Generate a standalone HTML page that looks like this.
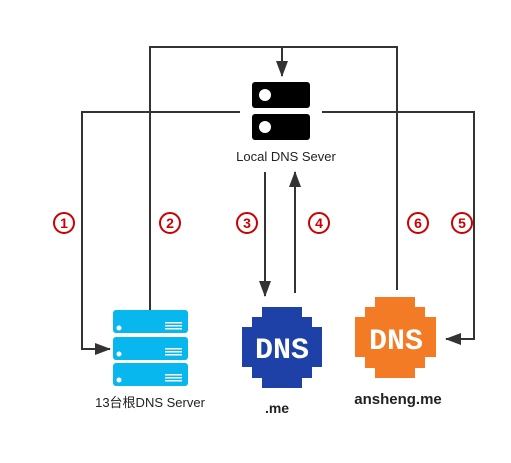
<!DOCTYPE html>
<html><head><style>
body{margin:0;background:#fff;width:511px;height:458px;overflow:hidden}
</style></head><body>
<svg width="511" height="458" xmlns="http://www.w3.org/2000/svg" font-family="Liberation Sans, Noto Sans CJK SC, sans-serif">
<defs><marker id="a" markerWidth="10" markerHeight="10" refX="9" refY="5" orient="auto" markerUnits="userSpaceOnUse"><path d="M0,0 L10,5 L0,10 z" fill="#333"/></marker>
<marker id="b" markerWidth="16" markerHeight="12" refX="15" refY="6" orient="auto" markerUnits="userSpaceOnUse"><path d="M0,0 L16,6 L0,12 z" fill="#333"/></marker></defs>
<g stroke="#333" stroke-width="2" fill="none">
<polyline points="150,310 150,47 397,47 397,290"/>
<line x1="282" y1="47" x2="282" y2="76" marker-end="url(#b)"/>
<polyline points="240,112 82,112 82,349 110,349" marker-end="url(#b)"/>
<polyline points="322,112 474,112 474,339 446,339" marker-end="url(#b)"/>
<line x1="265" y1="172" x2="265" y2="296" marker-end="url(#b)"/>
<line x1="295" y1="293" x2="295" y2="172" marker-end="url(#b)"/>
</g>
<rect x="252" y="82" width="58" height="26" rx="3" fill="#000"/>
<rect x="252" y="114" width="58" height="26" rx="3" fill="#000"/>
<circle cx="265" cy="95" r="6" fill="#fff"/><circle cx="265" cy="127" r="6" fill="#fff"/>
<text x="286" y="161" font-size="13" text-anchor="middle" fill="#222">Local DNS Sever</text>
<g fill="#fff" stroke="#c00" stroke-width="2" font-size="14" font-weight="bold" text-anchor="middle">
<circle cx="64" cy="223" r="10"/><circle cx="170" cy="223" r="10"/><circle cx="247" cy="223" r="10"/><circle cx="319" cy="223" r="10"/><circle cx="418" cy="223" r="10"/><circle cx="462" cy="223" r="10"/></g>
<g fill="#c00" font-size="14" font-weight="bold" text-anchor="middle">
<text x="64" y="228">1</text><text x="170" y="228">2</text><text x="247" y="228">3</text><text x="319" y="228">4</text><text x="418" y="228">6</text><text x="462" y="228">5</text></g>
<g fill="#08b7ee">
<rect x="113" y="310" width="75" height="23" rx="3"/><rect x="113" y="337" width="75" height="23" rx="3"/><rect x="113" y="363" width="75" height="23" rx="3"/></g>
<g fill="#fff"><circle cx="119" cy="328" r="2.5"/><circle cx="119" cy="354" r="2.5"/><circle cx="119" cy="380" r="2.5"/>
<rect x="165" y="322" width="17" height="1.5"/><rect x="165" y="325" width="17" height="1.5"/><rect x="165" y="328" width="17" height="1.5"/>
<rect x="165" y="348" width="17" height="1.5"/><rect x="165" y="351" width="17" height="1.5"/><rect x="165" y="354" width="17" height="1.5"/>
<rect x="165" y="374" width="17" height="1.5"/><rect x="165" y="377" width="17" height="1.5"/><rect x="165" y="380" width="17" height="1.5"/></g>
<text x="150" y="407" font-size="13" text-anchor="middle" fill="#222">13台根DNS Server</text>
<polygon fill="#1e41a8" points="262,307 302,307 302,317 312,317 312,327 322,327 322,367 312,367 312,378 302,378 302,388 262,388 262,378 252,378 252,367 242,367 242,327 252,327 252,317 262,317"/>
<text x="282" y="358" font-family="Liberation Mono, monospace" font-weight="bold" font-size="30" fill="#fff" text-anchor="middle">DNS</text>
<text x="277" y="413" font-size="14" font-weight="bold" text-anchor="middle" fill="#222">.me</text>
<polygon fill="#f47b25" points="375,297 415,297 415,307 425,307 425,317 436,317 436,357 425,357 425,368 415,368 415,378 375,378 375,368 365,368 365,357 355,357 355,317 365,317 365,307 375,307"/>
<text x="396" y="349" font-family="Liberation Mono, monospace" font-weight="bold" font-size="30" fill="#fff" text-anchor="middle">DNS</text>
<text x="398" y="404" font-size="15" font-weight="bold" text-anchor="middle" fill="#222">ansheng.me</text>
</svg>
</body></html>
